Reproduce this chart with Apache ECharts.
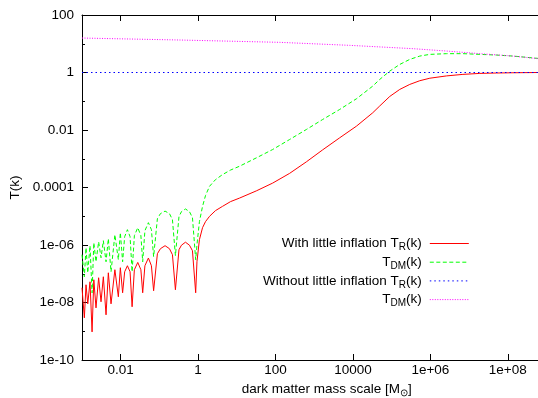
<!DOCTYPE html>
<html><head><meta charset="utf-8">
<script src="https://cdn.jsdelivr.net/npm/echarts@6/dist/echarts.min.js"></script>
<style>html,body{margin:0;padding:0;background:#fff}#c{width:538px;height:398px}</style>
</head><body><div id="c"></div>
<script>
// shared k grid (dark matter mass scale, M_sun) for the "with little inflation" curves
const kGrid = [
  1.0e-3, 1.15e-3, 1.27e-3, 1.41e-3, 1.61e-3, 1.82e-3, 2.02e-3, 2.30e-3, 2.69e-3, 3.10e-3,
  3.56e-3, 4.18e-3, 4.79e-3, 5.62e-3, 7.07e-3, 8.69e-3, 9.79e-3, 0.0112, 0.01265, 0.0149,
  0.01746, 0.0197, 0.02254, 0.0276, 0.0332, 0.0370, 0.0422, 0.0519, 0.0621, 0.0708,
  0.0887, 0.106, 0.140, 0.182, 0.217, 0.259, 0.320, 0.371, 0.471, 0.597,
  0.714, 0.865, 0.933, 1.08, 1.30, 1.55, 1.97, 2.81, 4.27, 6.87,
  11.7, 31.8, 84, 231, 625, 1650, 4540, 12300, 32400, 49200,
  89300, 1.62e5, 2.94e5, 5.33e5, 9.68e5, 2.62e6, 6.92e6, 1.90e7, 5.15e7, 1.36e8,
  6.0e8
];
const tRWith = [
  3.25e-8, 2.93e-9, 4.14e-8, 9.0e-9, 5.26e-8, 9.5e-10, 6.18e-8, 6.5e-9, 7.26e-8, 1.06e-8,
  7.86e-8, 3.73e-9, 1.08e-7, 9.0e-9, 1.38e-7, 1.58e-8, 1.62e-7, 2.18e-8, 1.17e-7, 1.90e-7,
  1.17e-7, 7.1e-9, 1.38e-7, 2.48e-7, 1.38e-7, 2.18e-8, 1.90e-7, 3.52e-7, 1.90e-7, 2.56e-8,
  4.98e-7, 7.43e-7, 9.46e-7, 7.43e-7, 4.59e-7, 2.77e-8, 6.86e-7, 9.84e-7, 1.25e-6, 9.84e-7,
  6.32e-7, 2.18e-8, 2.62e-7, 1.53e-6, 4.01e-6, 6.49e-6, 9.93e-6, 1.57e-5, 2.21e-5, 3.23e-5,
  4.28e-5, 7.62e-5, 1.42e-4, 3.10e-4, 7.80e-4, 2.04e-3, 5.35e-3, 0.0136, 0.0397, 0.0686,
  0.147, 0.258, 0.385, 0.518, 0.633, 0.762, 0.86, 0.93, 0.96, 0.98,
  1.0
];
const tDMWith = [
  4.59e-7, 7.86e-8, 8.05e-7, 1.08e-7, 9.46e-7, 2.18e-8, 1.20e-6, 2.62e-7, 1.30e-6, 3.61e-7,
  1.41e-6, 2.62e-7, 1.66e-6, 1.17e-7, 2.29e-6, 3.08e-7, 2.69e-6, 2.62e-7, 1.95e-6, 3.41e-6,
  1.95e-6, 1.17e-7, 2.11e-6, 4.01e-6, 2.11e-6, 2.62e-7, 3.15e-6, 5.98e-6, 3.41e-6, 3.91e-7,
  8.24e-6, 1.23e-5, 1.51e-5, 1.23e-5, 7.62e-6, 4.24e-7, 9.68e-6, 1.45e-5, 1.79e-5, 1.45e-5,
  8.93e-6, 3.08e-7, 1.02e-6, 6.49e-6, 2.21e-5, 5.22e-5, 1.10e-4, 1.88e-4, 2.81e-4, 4.04e-4,
  5.48e-4, 1.07e-3, 2.09e-3, 4.67e-3, 0.0104, 0.0232, 0.0518, 0.122, 0.336, 0.575,
  1.12, 1.91, 2.86, 3.73, 4.27, 4.52, 4.52, 4.27, 4.04, 3.73,
  3.10
];
// "without little inflation" curves
const kBlue = [1.0e-3, 6.0e8];
const tRWithout = [1.0, 1.0];
const kMagenta = [1.0e-3, 0.329, 127, 8240, 3.52e5, 2.67e6, 1.90e7, 1.36e8, 6.0e8];
const tDMWithout = [15.8, 13.5, 11.2, 8.8, 6.75, 5.57, 4.52, 3.73, 3.03];

const xTickValues = [0.01, 1, 100, 1e4, 1e6, 1e8];
const xTickLabels = ['0.01', '1', '100', '10000', '1e+06', '1e+08'];
const yTickValues = [1e-10, 1e-8, 1e-6, 1e-4, 1e-2, 1, 100];
const yTickLabels = ['1e-10', '1e-08', '1e-06', '0.0001', '0.01', '1', '100'];
const yMinorValues = [1e-9, 1e-7, 1e-5, 1e-3, 0.1, 10];

const seriesKeys = ['rWith', 'dmWith', 'rWithout', 'dmWithout'];
const legendText = {
  rWith: '{t|With little inflation T}{s|R}{e|(k)}',
  dmWith: '{t|T}{s|DM}{e|(k)}',
  rWithout: '{t|Without little inflation T}{s|R}{e|(k)}',
  dmWithout: '{t|T}{s|DM}{e|(k)}'
};

const FONT = '"Liberation Sans", Arial, Helvetica, sans-serif';
const FS = 13.5;

function pair(k, t) { return k.map((x, i) => [x, t[i]]); }
function labelFor(vals, labels) {
  return function (v) {
    const lv = Math.log10(v);
    for (let i = 0; i < vals.length; i++) {
      if (Math.abs(lv - Math.log10(vals[i])) < 1e-6) return labels[i];
    }
    return '';
  };
}
const rich = {
  t: { fontSize: FS, lineHeight: 18, color: '#000', fontFamily: FONT },
  e: { fontSize: FS, lineHeight: 18, color: '#000', fontFamily: FONT, padding: [0, 3, 0, 0] },
  s: { fontSize: 10, lineHeight: 10, color: '#000', fontFamily: FONT, verticalAlign: 'bottom' }
};

const chart = echarts.init(document.getElementById('c'), null, { renderer: 'canvas' });

function mkLine(key, data, color, type) {
  return {
    name: key, type: 'line', data: data, symbol: 'none', showSymbol: false,
    lineStyle: { color: color, width: 1, type: type },
    itemStyle: { color: color },
    emphasis: { disabled: true }, silent: true, animation: false, clip: true
  };
}

const axisLine = { show: true, lineStyle: { color: '#000', width: 1 } };

chart.setOption({
  animation: false,
  backgroundColor: '#fff',
  grid: { left: 82, right: -8.5, top: 15, bottom: 38, containLabel: false, outerBoundsMode: 'none' },
  legend: {
    orient: 'vertical', align: 'right', right: 68.7, top: 236.5,
    itemWidth: 39, itemHeight: 14, itemGap: 2.7, padding: 0,
    data: seriesKeys,
    formatter: name => legendText[name],
    itemStyle: { color: 'rgba(0,0,0,0)', borderWidth: 0, opacity: 0 },
    lineStyle: { width: 1 },
    textStyle: { color: '#000', fontFamily: FONT, fontSize: FS, rich: rich },
    selectedMode: false
  },
  xAxis: [
    {
      type: 'log', logBase: 10, min: 1e-3, max: 1e9, position: 'bottom',
      axisLine: axisLine,
      axisTick: { show: true, inside: true, length: 6, customValues: xTickValues, lineStyle: { color: '#000' } },
      axisLabel: { customValues: xTickValues, formatter: labelFor(xTickValues, xTickLabels), margin: 3, color: '#000', fontSize: FS, fontFamily: FONT },
      splitLine: { show: false }, minorTick: { show: false },
      name: '{t|dark matter mass scale [M}{s|⊙}{t|]}',
      nameLocation: 'middle', nameGap: 11,
      nameTextStyle: { rich: rich, padding: [0, 0, 0, 25] }
    },
    {
      type: 'log', logBase: 10, min: 1e-3, max: 1e9, position: 'top',
      axisLine: axisLine,
      axisTick: { show: true, inside: true, length: 6, customValues: xTickValues, lineStyle: { color: '#000' } },
      axisLabel: { show: false }, splitLine: { show: false }
    }
  ],
  yAxis: [
    {
      type: 'log', logBase: 10, min: 1e-10, max: 100, position: 'left',
      axisLine: axisLine,
      axisTick: { show: true, inside: true, length: 6, customValues: yTickValues, lineStyle: { color: '#000' } },
      axisLabel: { customValues: yTickValues, formatter: labelFor(yTickValues, yTickLabels), margin: 8, color: '#000', fontSize: FS, fontFamily: FONT },
      splitLine: { show: false }, minorTick: { show: false },
      name: 'T(k)', nameLocation: 'middle', nameGap: 58,
      nameTextStyle: { color: '#000', fontSize: FS, fontFamily: FONT }
    },
    {
      type: 'log', logBase: 10, min: 1e-10, max: 100, position: 'left',
      axisLine: { show: false },
      axisTick: { show: true, inside: true, length: 3, customValues: yMinorValues, lineStyle: { color: '#000' } },
      axisLabel: { show: false }, splitLine: { show: false }
    }
  ],
  series: [
    mkLine('rWith', pair(kGrid, tRWith), '#ff0000', 'solid'),
    mkLine('dmWith', pair(kGrid, tDMWith), '#00ff00', [4, 2.5]),
    mkLine('rWithout', pair(kBlue, tRWithout), '#0000ff', [1.5, 3]),
    mkLine('dmWithout', pair(kMagenta, tDMWithout), '#ff00ff', [1, 1.5])
  ]
});
</script>
</body></html>
